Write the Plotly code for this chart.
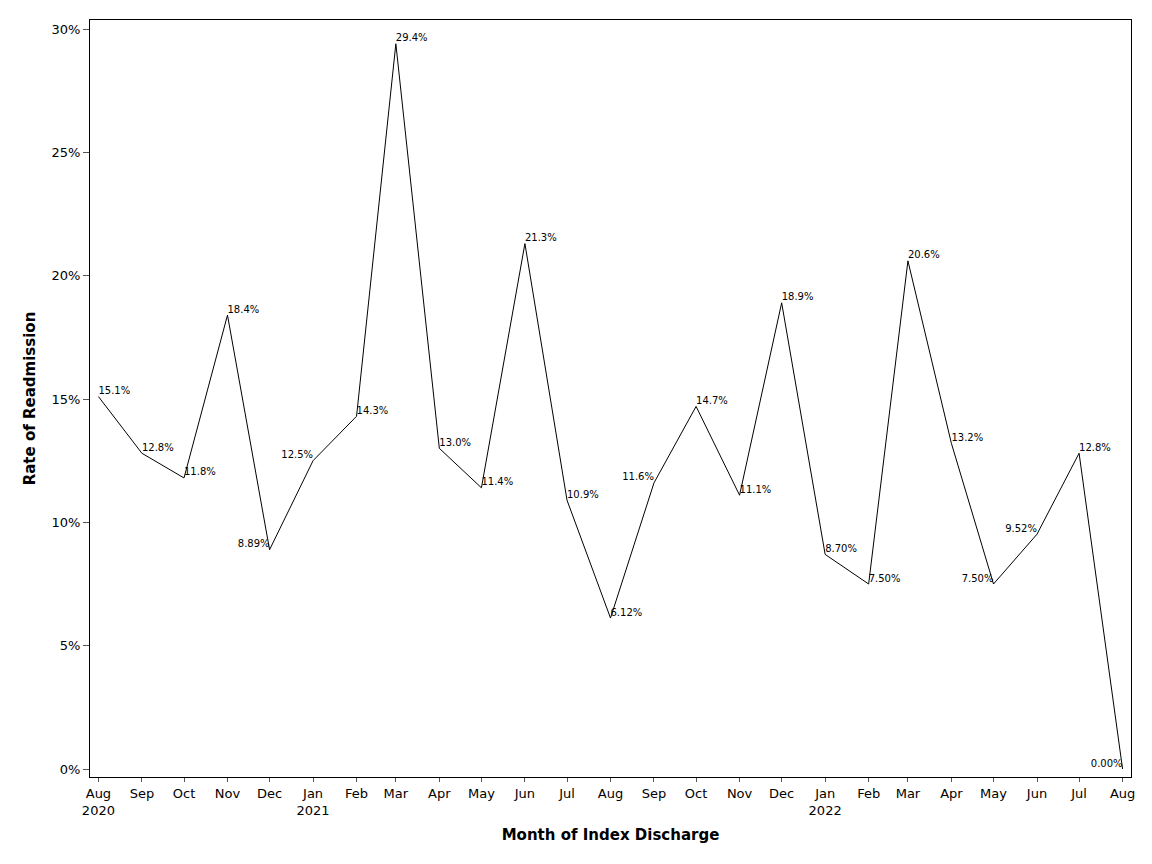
import plotly.graph_objects as go

# meses de alta (primeiro dia do mês)
meses = ['2020-08-01', '2020-09-01', '2020-10-01', '2020-11-01', '2020-12-01',
         '2021-01-01', '2021-02-01', '2021-03-01', '2021-04-01', '2021-05-01',
         '2021-06-01', '2021-07-01', '2021-08-01', '2021-09-01', '2021-10-01',
         '2021-11-01', '2021-12-01', '2022-01-01', '2022-02-01', '2022-03-01',
         '2022-04-01', '2022-05-01', '2022-06-01', '2022-07-01', '2022-08-01']

taxas = [0.151, 0.128, 0.118, 0.184, 0.0889, 0.125, 0.143, 0.294, 0.130, 0.114,
         0.213, 0.109, 0.0612, 0.116, 0.147, 0.111, 0.189, 0.0870, 0.0750, 0.206,
         0.132, 0.0750, 0.0952, 0.128, 0.0]

rotulos = ['15.1%', '12.8%', '11.8%', '18.4%', '8.89%', '12.5%', '14.3%', '29.4%',
           '13.0%', '11.4%', '21.3%', '10.9%', '6.12%', '11.6%', '14.7%', '11.1%',
           '18.9%', '8.70%', '7.50%', '20.6%', '13.2%', '7.50%', '9.52%', '12.8%',
           '0.00%']

posicoes = ['top right', 'top right', 'top right', 'top right', 'top left',
            'top left', 'top right', 'top right', 'top right', 'top right',
            'top right', 'top right', 'top right', 'top left', 'top right',
            'top right', 'top right', 'top right', 'top right', 'top right',
            'top right', 'top left', 'top left', 'top right', 'top left']

ticks_texto = ['Aug<br>2020', 'Sep', 'Oct', 'Nov', 'Dec', 'Jan<br>2021', 'Feb', 'Mar',
               'Apr', 'May', 'Jun', 'Jul', 'Aug', 'Sep', 'Oct', 'Nov', 'Dec',
               'Jan<br>2022', 'Feb', 'Mar', 'Apr', 'May', 'Jun', 'Jul', 'Aug']

y_ticks = [0, 0.05, 0.10, 0.15, 0.20, 0.25, 0.30]

fonte = 'DejaVu Sans'

fig = go.Figure()
fig.add_trace(go.Scatter(x=meses, y=taxas, mode='lines+text',
                         line=dict(color='black', width=1),
                         text=rotulos, textposition=posicoes,
                         textfont=dict(family=fonte, size=10, color='black'),
                         cliponaxis=False, showlegend=False))

# a página tem 8px de margem no body, compensado aqui
fig.update_layout(width=1152, height=864,
                  margin=dict(l=82, r=29, t=12, b=95),
                  paper_bgcolor='white', plot_bgcolor='white',
                  font=dict(family=fonte, size=13, color='black'))

fig.update_xaxes(type='date', range=['2020-07-26', '2022-08-07'],
                 tickvals=meses, ticktext=ticks_texto,
                 ticks='outside', ticklen=4, tickcolor='#555555', tickwidth=1,
                 showline=True, linecolor='black', linewidth=1, mirror=True,
                 showgrid=False, zeroline=False,
                 tickfont=dict(family=fonte, size=13),
                 title=dict(text='<b>Month of Index Discharge</b>',
                            font=dict(family=fonte, size=15), standoff=12))

fig.update_yaxes(range=[-0.00324, 0.30365], tickvals=y_ticks, tickformat='.0%',
                 ticks='outside', ticklen=6, tickcolor='#555555', tickwidth=1,
                 showline=True, linecolor='black', linewidth=1, mirror=True,
                 showgrid=False, zeroline=False,
                 tickfont=dict(family=fonte, size=13),
                 title=dict(text='<b>Rate of Readmission</b>',
                            font=dict(family=fonte, size=15), standoff=12))

fig.write_html("out.html")
